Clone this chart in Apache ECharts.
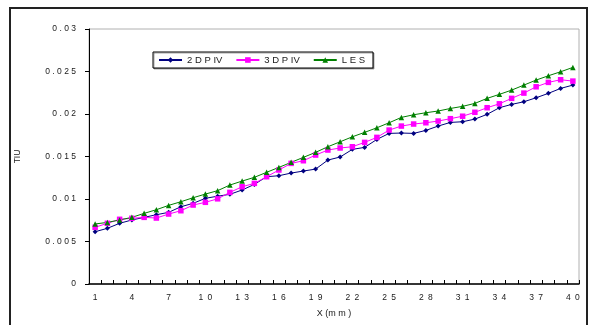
<!DOCTYPE html>
<html><head><meta charset="utf-8">
<script src="https://cdn.jsdelivr.net/npm/echarts@6/dist/echarts.min.js"></script>
<style>html,body{margin:0;padding:0;background:#fff}#c{width:591px;height:325px}</style>
</head><body><div id="c"></div>
<script>
var categories = [];
for (var i = 1; i <= 40; i++) categories.push(String(i));
var yTicks = [0, 0.005, 0.01, 0.015, 0.02, 0.025, 0.03];
var seriesNames = ['2DPIV', '3DPIV', 'LES'];
var legendLabels = {'2DPIV': '2 D P IV', '3DPIV': '3 D P IV', 'LES': 'L E S'};
var piv2d = [0.00615,0.00655,0.00714,0.00753,0.00784,0.00815,0.00843,0.00909,0.00949,0.01008,
             0.01033,0.01055,0.01106,0.01172,0.01262,0.01274,0.01305,0.01329,0.01352,0.01458,
             0.01494,0.01584,0.01607,0.01701,0.01772,0.01776,0.01772,0.01807,0.01858,0.01901,
             0.01909,0.0194,0.01996,0.02074,0.02113,0.02144,0.02191,0.02243,0.02301,0.0234];
var piv3d = [0.00667,0.00714,0.00761,0.00773,0.00784,0.00776,0.00823,0.00862,0.00929,0.00961,
             0.01002,0.01078,0.01144,0.01184,0.01262,0.01341,0.01419,0.0145,0.01517,0.01576,
             0.016,0.01615,0.01666,0.01725,0.01811,0.01858,0.01882,0.01897,0.01917,0.01945,
             0.01974,0.0202,0.02074,0.0212,0.02184,0.02246,0.0232,0.02372,0.02403,0.02387];
var les = [0.00706,0.00725,0.00753,0.00784,0.00831,0.00874,0.00925,0.00968,0.01015,0.01058,
           0.01098,0.01164,0.01211,0.01255,0.01314,0.01372,0.01431,0.0149,0.01549,0.01615,
           0.01673,0.01732,0.01784,0.01838,0.01897,0.0196,0.01991,0.02015,0.02035,0.02065,
           0.0209,0.02125,0.02184,0.02231,0.02281,0.0234,0.02399,0.0245,0.02497,0.02548];

function spaced(s, sep) { return String(s).split('').join(sep); }
var txt = '#1a1a1a';
var font = 'Arial, "Liberation Sans", sans-serif';

var chart = echarts.init(document.getElementById('c'), null, {renderer: 'canvas'});
chart.setOption({
  animation: false,
  backgroundColor: '#fff',
  textStyle: {fontFamily: font},
  graphic: [{
    type: 'rect', z: -1, silent: true,
    shape: {x: 10, y: 8, width: 577, height: 340},
    style: {fill: 'none', stroke: '#222', lineWidth: 2}
  }],
  grid: {left: 89, right: 12, top: 29, bottom: 41, show: true, borderColor: '#b0b0b0', borderWidth: 1, backgroundColor: '#fff'},
  legend: {
    data: seriesNames, left: 153, top: 52, orient: 'horizontal',
    padding: [3, 8, 3, 5], itemWidth: 23, itemHeight: 7, itemGap: 13,
    backgroundColor: '#fff', borderColor: '#000', borderWidth: 1,
    shadowColor: 'rgba(0,0,0,0.35)', shadowOffsetX: 1, shadowOffsetY: 1, shadowBlur: 0,
    formatter: function (n) { return legendLabels[n]; },
    textStyle: {fontSize: 9.5, color: txt, fontFamily: font, padding: [0, 0, 0, 0]}
  },
  xAxis: {
    type: 'category', data: categories, boundaryGap: true,
    name: 'X (m m )', nameLocation: 'middle', nameGap: 25,
    nameTextStyle: {fontSize: 9, color: txt},
    axisLine: {lineStyle: {color: '#000', width: 1.5}},
    axisTick: {show: true, inside: true, length: 4, interval: 0, lineStyle: {color: '#000'}},
    axisLabel: {interval: 2, fontSize: 8.5, color: txt, margin: 9,
      formatter: function (v) { return spaced(v, '\u2002'); }},
    splitLine: {show: false}
  },
  yAxis: {
    type: 'value', min: 0, max: 0.03, interval: 0.005,
    name: 'TIU', nameLocation: 'middle', nameGap: 67, nameRotate: 90,
    nameTextStyle: {fontSize: 8.5, color: txt},
    axisLine: {show: true, lineStyle: {color: '#000', width: 1}},
    axisTick: {show: true, inside: false, length: 4, lineStyle: {color: '#000'}},
    axisLabel: {fontSize: 8.5, color: txt, margin: 13,
      formatter: function (v) {
        var idx = yTicks.indexOf(+v.toFixed(3));
        var s = idx >= 0 ? String(yTicks[idx]) : String(v);
        return spaced(s, ' ');
      }},
    splitLine: {show: false}
  },
  series: [
    {name: '2DPIV', type: 'line', data: piv2d, symbol: 'diamond', symbolSize: 5,
     itemStyle: {color: '#000080'}, lineStyle: {color: '#000080', width: 1}},
    {name: '3DPIV', type: 'line', data: piv3d, symbol: 'rect', symbolSize: 5.5,
     itemStyle: {color: '#ff00ff'}, lineStyle: {color: '#ff00ff', width: 1}},
    {name: 'LES', type: 'line', data: les, symbol: 'triangle', symbolSize: 5.5,
     itemStyle: {color: '#008000'}, lineStyle: {color: '#008000', width: 1}}
  ]
});
</script></body></html>
